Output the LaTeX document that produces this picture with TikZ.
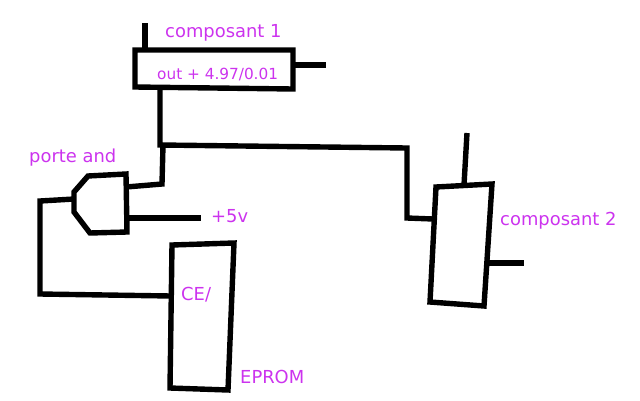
\documentclass[tikz,border=0pt]{standalone}
\usepackage{fontspec}
\setmainfont{DejaVu Sans}
\usepackage{xcolor}
\definecolor{cLabel}{HTML}{CC33EE}
\tikzset{
  wire/.style={line width=5.4pt,black,line cap=round,line join=miter},
  lbl/.style={anchor=base west,inner sep=0pt,text=cLabel,font=\fontsize{17.9}{20}\selectfont},
  lblsmall/.style={lbl,font=\fontsize{15.3}{18}\selectfont},
}
\begin{document}
\begin{tikzpicture}[x=1pt,y=-1pt]
    \useasboundingbox (0,0) rectangle (640,400);
    % composant 1
    \coordinate (c1a) at (135,50);
    \coordinate (c1b) at (293,50);
    \coordinate (c1c) at (293,89);
    \coordinate (c1d) at (135,87);
    \coordinate (c1top) at (145,23);
    \coordinate (c1topin) at (145,49);
    \coordinate (c1rin) at (293,65);
    \coordinate (c1r) at (326,65);
    \draw[wire] (c1a) -- (c1b) -- (c1c) -- (c1d) -- cycle;
    \draw[wire,line cap=butt] (c1top) -- (c1topin);
    \draw[wire,line cap=butt] (c1rin) -- (c1r);
    % composant 2
    \coordinate (c2a) at (436,187);
    \coordinate (c2b) at (492,184);
    \coordinate (c2c) at (484,306);
    \coordinate (c2d) at (430,302);
    \coordinate (c2top) at (467,133);
    \coordinate (c2topin) at (464,185);
    \coordinate (c2rin) at (488,263);
    \coordinate (c2r) at (524,263);
    \coordinate (c2in) at (433,219);
    \draw[wire] (c2a) -- (c2b) -- (c2c) -- (c2d) -- cycle;
    \draw[wire,line cap=butt] (c2top) -- (c2topin);
    \draw[wire,line cap=butt] (c2rin) -- (c2r);
    % porte and
    \coordinate (g1) at (126,174);
    \coordinate (g2) at (88,176);
    \coordinate (g3) at (74,192);
    \coordinate (g4) at (74,212);
    \coordinate (g5) at (90,233);
    \coordinate (g6) at (127,232);
    \draw[wire] (g1) -- (g2) -- (g3) -- (g4) -- (g5) -- (g6) -- cycle;
    % eprom
    \coordinate (e1) at (172,245);
    \coordinate (e2) at (234,243);
    \coordinate (e3) at (228,390);
    \coordinate (e4) at (170,388);
    \draw[wire] (e1) -- (e2) -- (e3) -- (e4) -- cycle;
    % fils
    \coordinate (j1) at (160,88);
    \coordinate (j2) at (160,145);
    \coordinate (j3) at (407,148);
    \coordinate (j4) at (407,218);
    \coordinate (j5) at (163,145);
    \coordinate (j6) at (162,184);
    \coordinate (j7) at (126,187);
    \coordinate (v1) at (127,218);
    \coordinate (v2) at (201,218);
    \coordinate (k1) at (74,199);
    \coordinate (k2) at (40,201);
    \coordinate (k3) at (40,294);
    \coordinate (k4) at (171,296);
    \draw[wire,line cap=butt] (j1) -- (j2) -- (j3) -- (j4) -- (c2in);
    \draw[wire,line cap=butt] (j5) -- (j6) -- (j7);
    \draw[wire,line cap=butt] (v1) -- (v2);
    \draw[wire,line cap=butt] (k1) -- (k2) -- (k3) -- (k4);
    % textes
    \node[lbl] (lc1) at (165,37) {composant 1};
    \node[lblsmall] (lout) at (157,79) {out + 4.97/0.01};
    \node[lbl] (land) at (29,162) {porte and};
    \node[lbl] (lfive) at (211,222) {+5v};
    \node[lbl] (lce) at (181,300) {CE/};
    \node[lbl] (lrom) at (240,383) {EPROM};
    \node[lbl] (lc2) at (500,225) {composant 2};
  \end{tikzpicture}
\end{document}
